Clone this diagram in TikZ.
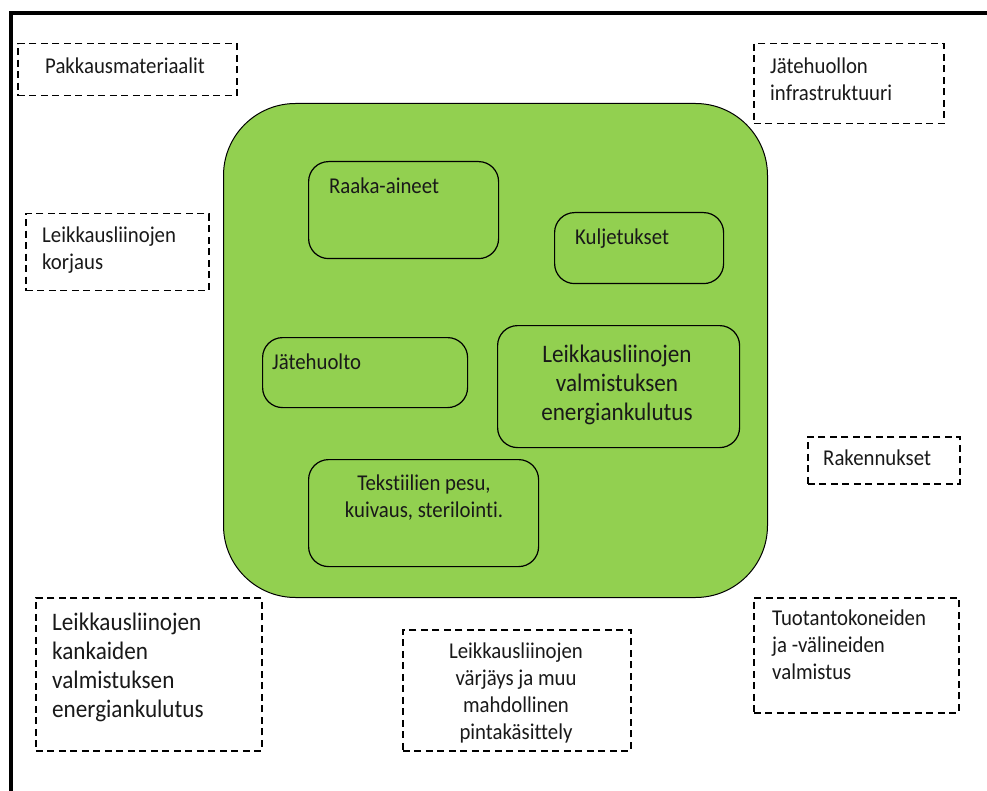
\documentclass[tikz,border=0pt]{standalone}
\usepackage{fontspec}
\setmainfont[Ligatures=NoCommon, FakeStretch=0.92]{Carlito}
\definecolor{leafgreen}{HTML}{92D050}
\tikzset{
  dbox/.style={draw=black, dash pattern=on 7pt off 4.5pt, line width=1.5pt, inner sep=0pt, anchor=north west},
  ibox/.style={draw=black, line width=1.2pt, rounded corners=20pt, inner sep=0pt, anchor=north west},
  smalltxt/.style={font=\fontsize{22.6}{27}\selectfont, inner sep=0pt, text=black!90},
  largetxt/.style={font=\fontsize{25.2}{29}\selectfont, inner sep=0pt, text=black!90},
}
\begin{document}
\begin{tikzpicture}[x=1pt,y=-1pt]
\useasboundingbox (0,0) rectangle (987,791);
\fill[white] (0,0) rectangle (987,791);
\draw[line width=4pt, line join=miter] (11,800) -- (11,13) -- (995,13);

% outer dashed boxes (multi-line texts are anchored at the baseline of their last line)
\node[dbox, minimum width=219pt, minimum height=52pt] (pak) at (17,43) {};
\node[smalltxt, anchor=base west] (pakt) at (45,74) {Pakkausmateriaalit};

\node[dbox, minimum width=190pt, minimum height=80pt] (jinf) at (753,43) {};
\node[smalltxt, anchor=base west, align=left] (jinft) at (770,101) {Jätehuollon\\infrastruktuuri};

\node[dbox, minimum width=183pt, minimum height=77pt] (kor) at (25,213) {};
\node[smalltxt, anchor=base west, align=left] (kort) at (42,270) {Leikkausliinojen\\korjaus};

\node[dbox, minimum width=152pt, minimum height=47pt] (rak) at (807,436) {};
\node[smalltxt, anchor=base west] (rakt) at (823,465) {Rakennukset};

\node[dbox, minimum width=226pt, minimum height=153pt] (kank) at (35,597) {};
\node[largetxt, anchor=base west, align=left] (kankt) at (52,717) {Leikkausliinojen\\kankaiden\\valmistuksen\\energiankulutus};

\node[dbox, minimum width=228pt, minimum height=121pt] (varj) at (402,629) {};
\begin{scope}
  \clip (402,629) rectangle (630,742);
  \node[smalltxt, anchor=base, align=center] (varjt) at (516,739) {Leikkausliinojen\\värjäys ja muu\\mahdollinen\\pintakäsittely};
\end{scope}

\node[dbox, minimum width=205pt, minimum height=115pt] (tuot) at (753,597) {};
\node[smalltxt, anchor=base west, align=left] (tuott) at (772,679) {Tuotantokoneiden\\ja -välineiden\\valmistus};

% green area
\node[draw=black, fill=leafgreen, line width=1pt, rounded corners=72pt, minimum width=544pt, minimum height=494pt, inner sep=0pt, anchor=north west] (green) at (223,103) {};

\node[ibox, minimum width=190pt, minimum height=97pt] (raaka) at (308,161) {};
\node[smalltxt, anchor=base west] (raakat) at (329,194) {Raaka-aineet};

\node[ibox, minimum width=169pt, minimum height=71pt] (kulj) at (554,212) {};
\node[smalltxt, anchor=base west] (kuljt) at (575,245) {Kuljetukset};

\node[ibox, minimum width=205pt, minimum height=70pt] (jate) at (262,337) {};
\node[smalltxt, anchor=base west] (jatet) at (272,369) {Jätehuolto};

\node[ibox, minimum width=242pt, minimum height=122pt] (ener) at (497,325) {};
\node[largetxt, anchor=base, align=center] (enert) at (617,420) {Leikkausliinojen\\valmistuksen\\energiankulutus};

\node[ibox, minimum width=230pt, minimum height=107pt] (teks) at (308,459) {};
\node[smalltxt, anchor=base, align=center] (tekst) at (424,517) {Tekstiilien pesu,\\kuivaus, sterilointi.};
\end{tikzpicture}
\end{document}
